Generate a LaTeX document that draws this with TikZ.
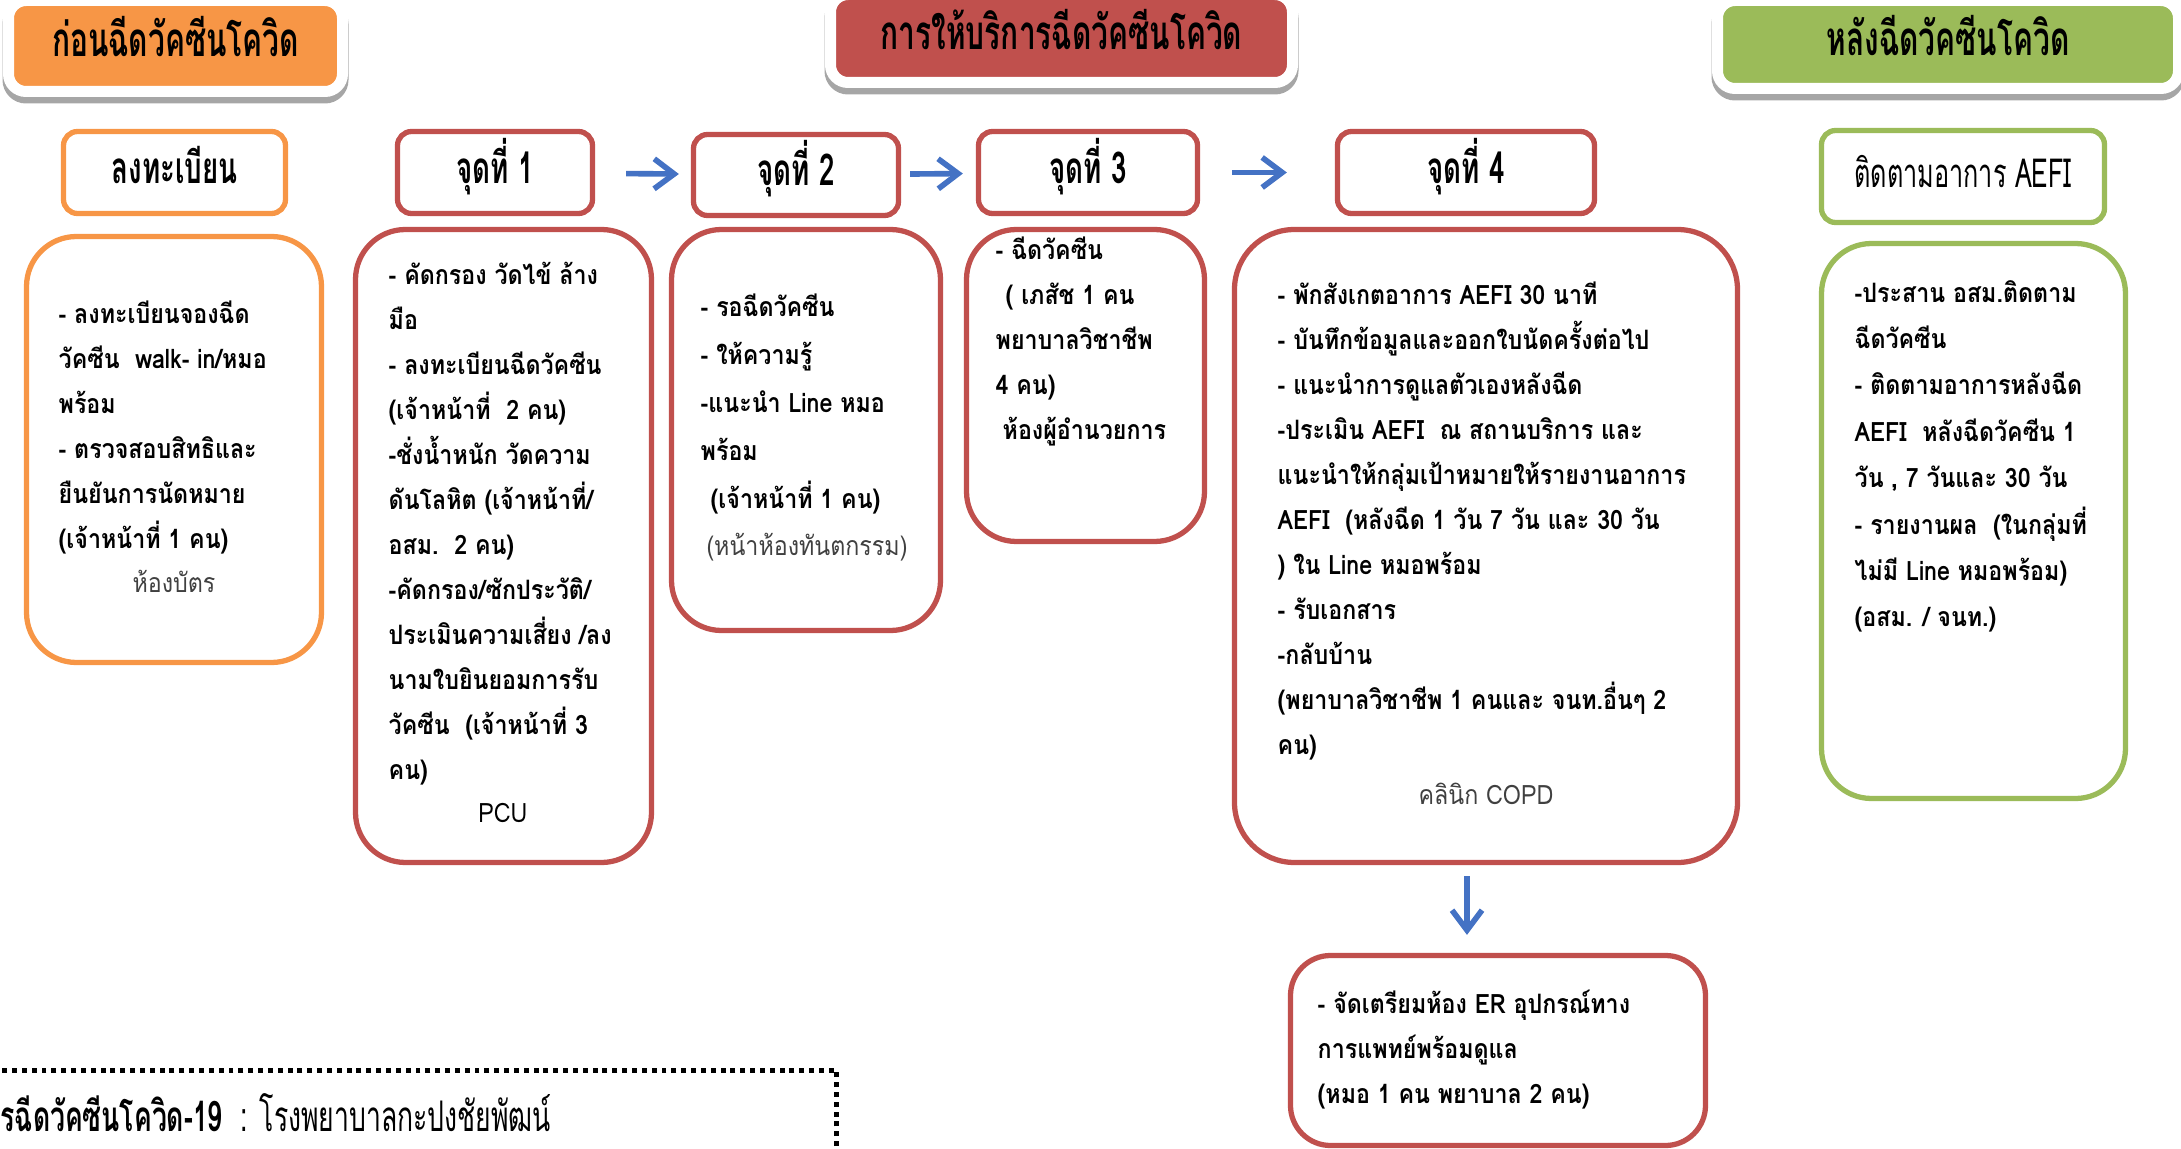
\documentclass[tikz,border=0pt]{standalone}
\usepackage{fontspec}
\setmainfont[Script=Thai,FakeStretch=0.87]{Loma}
\newfontfamily\thaihead[Script=Thai,FakeStretch=0.63]{Loma}
\usetikzlibrary{arrows.meta}
\definecolor{preorange}{HTML}{F79646}
\definecolor{svcred}{HTML}{C0504D}
\definecolor{postgreen}{HTML}{9BBB59}
\definecolor{flowblue}{HTML}{4472C4}
\definecolor{roomgray}{HTML}{404040}

\begin{document}
\begin{tikzpicture}
\tikzstyle{HeadStyle}=[
rounded corners = 5pt,
draw = white,
line width = 0.11cm,
preaction = {draw = black!35, line width = 0.12cm, transform canvas = {yshift = -0.06cm}},
inner sep = 0pt,
text height = 0.36cm,
text depth = 0.14cm,
font = \thaihead\bfseries\fontsize{13.5}{16}\selectfont]
\tikzstyle{StepStyle}=[
draw,
rounded corners = 4pt,
line width = 1.5pt,
inner sep = 0pt,
text height = 0.36cm,
text depth = 0.14cm,
font = \thaihead\bfseries\fontsize{12.5}{15}\selectfont]
\tikzstyle{BoxStyle}=[
draw,
rounded corners = 0.5cm,
line width = 1.5pt,
inner sep = 0pt]
\tikzstyle{TextStyle}=[
anchor = north west,
align = left,
inner sep = 0pt,
font = \bfseries\fontsize{7.6}{12.8}\selectfont]
\tikzstyle{RoomStyle}=[
inner sep = 0pt,
text = roomgray,
font = \fontsize{7.6}{10}\selectfont]
\tikzstyle{FlowStyle}=[
flowblue,
line width = 1.6pt,
-{Straight Barb[length = 0.2cm, width = 0.3cm]}]
\useasboundingbox (0,0) rectangle (21.81,-11.49);
\clip (0,0) rectangle (21.81,-11.49);
\node[HeadStyle, fill = preorange, minimum width = 3.34cm, minimum height = 0.91cm] (pre) at (1.755,-0.46) {ก่อนฉีดวัคซีนโควิด};
\node[HeadStyle, fill = svcred, minimum width = 4.62cm, minimum height = 0.88cm] (svc) at (10.615,-0.385) {การให้บริการฉีดวัคซีนโควิด};
\node[HeadStyle, fill = postgreen, minimum width = 4.61cm, minimum height = 0.88cm] (post) at (19.48,-0.445) {หลังฉีดวัคซีนโควิด};
\node[StepStyle, draw = preorange, minimum width = 2.22cm, minimum height = 0.82cm] (reg) at (1.745,-1.725) {ลงทะเบียน};
\node[StepStyle, draw = svcred, minimum width = 1.95cm, minimum height = 0.82cm] (p1) at (4.95,-1.725) {จุดที่ 1};
\node[StepStyle, draw = svcred, minimum width = 2.05cm, minimum height = 0.81cm] (p2) at (7.96,-1.75) {จุดที่ 2};
\node[StepStyle, draw = svcred, minimum width = 2.19cm, minimum height = 0.82cm] (p3) at (10.88,-1.725) {จุดที่ 3};
\node[StepStyle, draw = svcred, minimum width = 2.57cm, minimum height = 0.82cm] (p4) at (14.66,-1.725) {จุดที่ 4};
\node[StepStyle, draw = postgreen, font = \thaihead\fontsize{11.4}{14}\selectfont, minimum width = 2.83cm, minimum height = 0.92cm] (aefi) at (19.63,-1.765) {ติดตามอาการ AEFI};
\node[BoxStyle, draw = preorange, minimum width = 2.95cm, minimum height = 4.26cm] (regbox) at (1.74,-4.495) {};
\node[BoxStyle, draw = svcred, minimum width = 2.96cm, minimum height = 6.33cm] (p1box) at (5.035,-5.46) {};
\node[BoxStyle, draw = svcred, minimum width = 2.69cm, minimum height = 4.01cm] (p2box) at (8.06,-4.30) {};
\node[BoxStyle, draw = svcred, minimum width = 2.38cm, minimum height = 3.12cm] (p3box) at (10.855,-3.855) {};
\node[BoxStyle, draw = svcred, rounded corners = 0.6cm, minimum width = 5.03cm, minimum height = 6.33cm] (p4box) at (14.86,-5.46) {};
\node[BoxStyle, draw = postgreen, minimum width = 3.04cm, minimum height = 5.55cm] (aefibox) at (19.735,-5.21) {};
\node[BoxStyle, draw = svcred, rounded corners = 0.4cm, minimum width = 4.15cm, minimum height = 1.90cm] (erbox) at (14.98,-10.505) {};
\node[TextStyle] (regtext) at (0.58,-3.005) {- ลงทะเบียนจองฉีด\\วัคซีน~~walk- in/หมอ\\พร้อม\\- ตรวจสอบสิทธิและ\\ยืนยันการนัดหมาย\\(เจ้าหน้าที่ 1 คน)};
\node[RoomStyle] (regroom) at (1.74,-5.81) {ห้องบัตร};
\node[TextStyle] (p1text) at (3.88,-2.615) {- คัดกรอง วัดไข้ ล้าง\\มือ\\- ลงทะเบียนฉีดวัคซีน\\(เจ้าหน้าที่~~2 คน)\\-ชั่งน้ำหนัก วัดความ\\ดันโลหิต (เจ้าหน้าที่/\\อสม.~~2 คน)\\-คัดกรอง/ซักประวัติ/\\ประเมินความเสี่ยง /ลง\\นามใบยินยอมการรับ\\วัคซีน~~(เจ้าหน้าที่ 3\\คน)};
\node[RoomStyle, text = black] (pcu) at (5.03,-8.13) {PCU};
\node[TextStyle, font = \bfseries\fontsize{7.6}{13.6}\selectfont] (p2text) at (7.0,-2.935) {- รอฉีดวัคซีน\\- ให้ความรู้\\-แนะนำ Line หมอ\\พร้อม\\\hspace{0.1cm}(เจ้าหน้าที่ 1 คน)};
\node[RoomStyle] (p2room) at (8.07,-5.47) {(หน้าห้องทันตกรรม)};
\node[TextStyle] (p3text) at (9.95,-2.365) {- ฉีดวัคซีน\\\hspace{0.1cm}( เภสัช 1 คน\\พยาบาลวิชาชีพ\\4 คน)\\\hspace{0.07cm}ห้องผู้อำนวยการ};
\node[TextStyle] (p4text) at (12.77,-2.81) {- พักสังเกตอาการ AEFI 30 นาที\\- บันทึกข้อมูลและออกใบนัดครั้งต่อไป\\- แนะนำการดูแลตัวเองหลังฉีด\\-ประเมิน AEFI~~ณ สถานบริการ และ\\แนะนำให้กลุ่มเป้าหมายให้รายงานอาการ\\AEFI~~(หลังฉีด 1 วัน 7 วัน และ 30 วัน\\) ใน Line หมอพร้อม\\- รับเอกสาร\\-กลับบ้าน\\(พยาบาลวิชาชีพ 1 คนและ จนท.อื่นๆ 2\\คน)};
\node[RoomStyle] (copd) at (14.86,-7.94) {คลินิก COPD};
\node[TextStyle, font = \bfseries\fontsize{7.6}{13.2}\selectfont] (aefitext) at (18.54,-2.795) {-ประสาน อสม.ติดตาม\\ฉีดวัคซีน\\- ติดตามอาการหลังฉีด\\AEFI~~หลังฉีดวัคซีน 1\\วัน , 7 วันและ 30 วัน\\- รายงานผล~~(ในกลุ่มที่\\ไม่มี Line หมอพร้อม)\\(อสม. / จนท.)};
\node[TextStyle] (ertext) at (13.17,-9.89) {- จัดเตรียมห้อง ER อุปกรณ์ทาง\\การแพทย์พร้อมดูแล\\(หมอ 1 คน พยาบาล 2 คน)};
\node[draw, line width = 1.3pt, dash pattern = on 1.4pt off 1.4pt, anchor = north east, minimum width = 9cm, minimum height = 1.5cm, inner sep = 0pt] (legend) at (8.39,-10.68) {};
\node[anchor = base west, inner sep = 0pt, font = \thaihead\fontsize{12}{15}\selectfont] (credit) at (0,-11.31) {\textbf{รฉีดวัคซีนโควิด-19}~~: โรงพยาบาลกะปงชัยพัฒน์};
\draw[FlowStyle, shorten < = 0.31cm, shorten > = 0.12cm] (p1) -- (p2);
\draw[FlowStyle, shorten < = 0.09cm, shorten > = 0.13cm] (p2) -- (p3);
\draw[FlowStyle, shorten < = 0.32cm, shorten > = 0.48cm] (p3) -- (p4);
\draw[FlowStyle, shorten < = 0.11cm, shorten > = 0.18cm] (p4box.south -| erbox.north) ++(-0.31,0) coordinate (down) -- (down |- erbox.north);
\end{tikzpicture}
\end{document}
